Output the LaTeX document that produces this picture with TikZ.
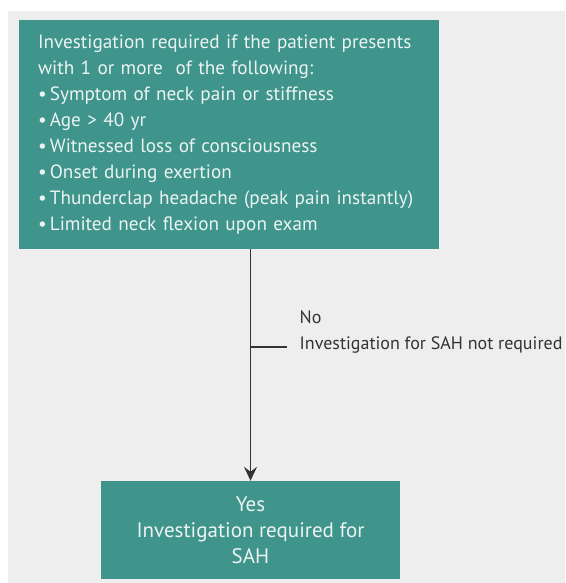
\documentclass[tikz,border=0pt]{standalone}
\usepackage{fontspec}
\setmainfont{PT Sans}
\usepackage{tikz}
\usetikzlibrary{arrows.meta, positioning, calc}
\definecolor{boxteal}{HTML}{3F948C}
\definecolor{boxtext}{HTML}{ECF4F2}
\definecolor{pagegrey}{HTML}{EEEEEE}
\definecolor{linegrey}{HTML}{333333}
\tikzstyle{block}=[fill=boxteal,rectangle,text=boxtext]
\tikzstyle{every node}=[font=\fontsize{19.2}{26}\selectfont]

\begin{document}
\begin{tikzpicture}[x=1pt,y=1pt,>={Stealth[length=14pt,width=13pt,inset=5pt]}]
  \useasboundingbox (0,0) rectangle (565,583);
  \fill[pagegrey] (8,0) rectangle (565,572);
  \node[block, text width=382pt, inner xsep=19pt, minimum height=229pt, align=left] (criteria) at (229,448.5)
    {Investigation required if the patient presents\\
     with 1 or more\ \ of the following:\\
     \textbullet\,Symptom of neck pain or stiffness\\
     \textbullet\,Age > 40 yr\\
     \textbullet\,Witnessed loss of consciousness\\
     \textbullet\,Onset during exertion\\
     \textbullet\,Thunderclap headache (peak pain instantly)\\
     \textbullet\,Limited neck flexion upon exam};
  \node[block, minimum width=299pt, minimum height=98pt, align=center,
        font=\fontsize{21}{26}\selectfont] (yes) at (250.5,53)
    {Yes\\Investigation required for\\SAH};
  \coordinate (split) at (yes.north |- 0,236);
  \coordinate[right=36pt of split] (stub);
  \node[anchor=west, align=left, text=linegrey, inner sep=0pt,
        font=\fontsize{18}{26}\selectfont] (no) at ($(stub)+(13,15)$)
    {No\\Investigation for SAH not required};
  \draw[linegrey, line width=1.4pt, ->] (yes.north |- criteria.south) -- (yes.north);
  \draw[linegrey, line width=1.2pt] (split) -- (stub);
\end{tikzpicture}
\end{document}
